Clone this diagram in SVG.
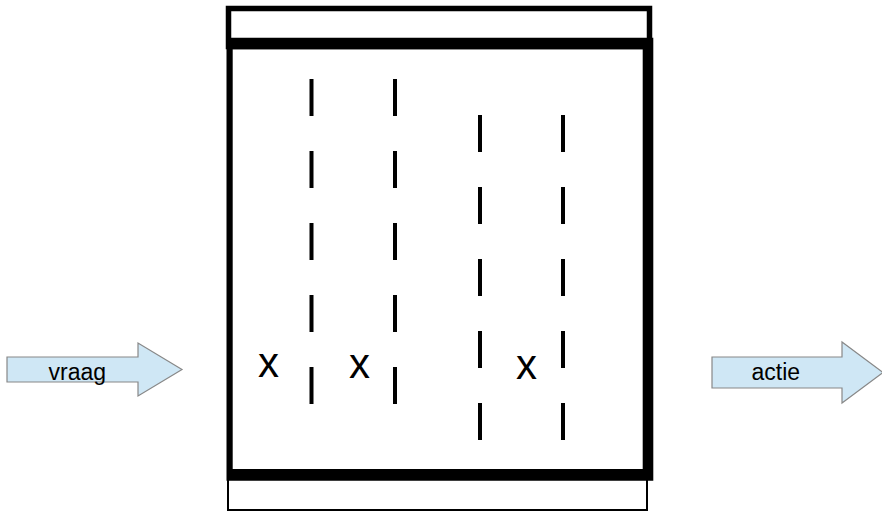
<svg xmlns="http://www.w3.org/2000/svg" width="882" height="511" viewBox="0 0 882 511">
<style>
.lbl{font-family:"Liberation Sans",Arial,sans-serif;font-size:23px;fill:#000}
.x{font-family:"Liberation Sans",Arial,sans-serif;font-size:42px;fill:#000}
.arrow{fill:#cfe7f5;stroke:#888;stroke-width:1.2}
.dash{stroke:#000;stroke-width:4;stroke-dasharray:37 35;fill:none}
</style>
<rect width="882" height="511" fill="#fff"/>
<g id="top-box">
<rect x="228.5" y="8.5" width="421" height="38" fill="#fff" stroke="#000" stroke-width="5.5"/>
</g>
<g id="bottom-box">
<rect x="228" y="475" width="419" height="35" fill="#fff" stroke="#000" stroke-width="2"/>
</g>
<g id="main-box">
<path d="M226.5 37.7H653.3V480.7H226.5Z M232.7 49.3V469H642.7V49.3Z" fill="#000" fill-rule="evenodd"/>
</g>
<g id="columns">
<line class="dash" x1="311.5" y1="79" x2="311.5" y2="404"/>
<line class="dash" x1="395" y1="79" x2="395" y2="404"/>
<line class="dash" x1="480" y1="115" x2="480" y2="440"/>
<line class="dash" x1="563" y1="115" x2="563" y2="440"/>
</g>
<g id="marks">
<text class="x" x="258" y="377">x</text>
<text class="x" x="349" y="378">x</text>
<text class="x" x="516" y="379">x</text>
</g>
<g id="vraag">
<path class="arrow" d="M7 357H138V343L182 369.5L138 396V382H7Z"/>
<text class="lbl" x="48.5" y="380">vraag</text>
</g>
<g id="actie">
<path class="arrow" d="M712 357H842V342L883 372.5L842 403V388H712Z"/>
<text class="lbl" x="751.5" y="380">actie</text>
</g>
<g id="connectors"></g>
</svg>
